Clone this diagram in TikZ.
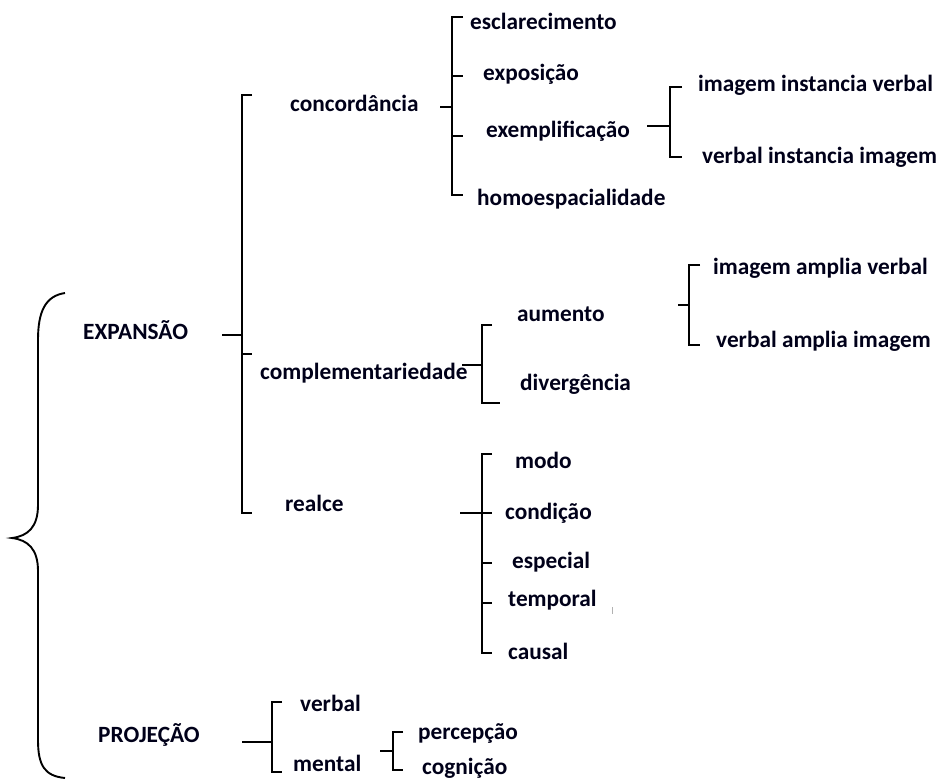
\documentclass[tikz,border=0pt]{standalone}
\usepackage{fontspec}
\setmainfont{Carlito}
\begin{document}
\begin{tikzpicture}[x=1pt,y=-1pt,
  lbl/.style={anchor=mid west,inner sep=0pt,yshift=-4pt,font=\fontsize{23.3}{28}\bfseries\selectfont,text=black!90!blue},
  brk/.style={line width=2.5pt,line cap=butt,line join=miter},
  brace/.style={line width=1.9pt}]
\useasboundingbox (0,0) rectangle (936,780);
% big brace
\draw[brace] (65,293) .. controls (45,296) and (38,312) .. (38,340) -- (38,505)
  .. controls (38,527) and (28,536) .. (12,538)
  .. controls (28,540) and (38,549) .. (38,571) -- (38,740)
  .. controls (38,766) and (45,776) .. (65,778);
% labels
\node[lbl] (exp) at (83,333) {EXPANSÃO};
\node[lbl] (proj) at (98,736) {PROJEÇÃO};
\node[lbl] (conc) at (290,105) {concordância};
\node[lbl] (comp) at (260,373) {complementariedade};
\node[lbl] (real) at (285,505) {realce};
\node[lbl] (escl) at (470,23) {esclarecimento};
\node[lbl] (expo) at (483,74) {exposição};
\node[lbl] (exem) at (486,131) {exemplificação};
\node[lbl] (homo) at (477,199) {homoespacialidade};
\node[lbl] (iiv) at (698,85) {imagem instancia verbal};
\node[lbl] (vii) at (702,157) {verbal instancia imagem};
\node[lbl] (aum) at (517,315) {aumento};
\node[lbl] (div) at (520,384) {divergência};
\node[lbl] (iav) at (713,268) {imagem amplia verbal};
\node[lbl] (vai) at (716,341) {verbal amplia imagem};
\node[lbl] (modo) at (515,462) {modo};
\node[lbl] (cond) at (505,513) {condição};
\node[lbl] (espe) at (512,562) {especial};
\node[lbl] (temp) at (508,600) {temporal};
\node[lbl] (caus) at (508,653) {causal};
\node[lbl] (verb) at (300,705) {verbal};
\node[lbl] (ment) at (293,765) {mental};
\node[lbl] (perc) at (418,733) {percepção};
\node[lbl] (cogn) at (422,768) {cognição};
% EXPANSAO bracket
\draw[brk] (252,95) -- (242,95) -- (242,513) -- (252,513);
\draw[brk] (222,335) -- (242,335);
\draw[brk] (242,354) -- (252,354);
% concordancia bracket
\draw[brk] (463,17) -- (452,17) -- (452,195) -- (463,195);
\draw[brk] (440,107) -- (452,107);
\draw[brk] (452,76) -- (463,76);
\draw[brk] (452,136) -- (463,136);
% exemplificacao bracket
\draw[brk] (682,87) -- (670,87) -- (670,157) -- (682,157);
\draw[brk] (647,126) -- (670,126);
% complementariedade bracket
\draw[brk] (492,325) -- (482,325) -- (482,403) -- (500,403);
\draw[brk] (462,365) -- (482,365);
% aumento bracket
\draw[brk] (700,265) -- (689,265) -- (689,345) -- (700,345);
\draw[brk] (678,305) -- (689,305);
% realce bracket
\draw[brk] (492,454) -- (482,454) -- (482,653) -- (492,653);
\draw[brk] (460,513) -- (492,513);
\draw[brk] (482,563) -- (492,563);
\draw[brk] (482,603) -- (492,603);
\draw[gray!60,line width=0.8pt] (612,607) -- (612,614);
% projecao bracket
\draw[brk] (282,702) -- (272,702) -- (272,772) -- (282,772);
\draw[brk] (242,742) -- (272,742);
% mental bracket
\draw[brk] (403,732) -- (393,732) -- (393,770) -- (403,770);
\draw[brk] (380,751) -- (393,751);
\end{tikzpicture}
\end{document}
